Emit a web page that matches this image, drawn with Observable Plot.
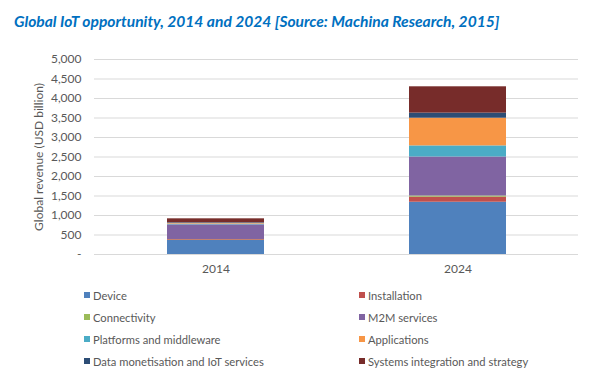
<!DOCTYPE html>
<html>
<head>
<meta charset="utf-8">
<script src="https://cdn.jsdelivr.net/npm/d3@7"></script>
<script src="https://cdn.jsdelivr.net/npm/@observablehq/plot@0.6"></script>
<style>
  html, body { margin: 0; padding: 0; background: #fff; }
  body { width: 599px; height: 385px; overflow: hidden; font-family: Lato, "Open Sans", sans-serif; }
  #title { height: 40px; box-sizing: border-box; padding: 11px 0 0 14px; font: italic bold 15.6px Lato, sans-serif; color: #0070C0; white-space: nowrap; line-height: 20px; }
  #chart { height: 245px; }
  #legend { display: grid; grid-template-columns: 275px 240px; row-gap: 0; margin-left: 84px; margin-top: -1px; }
  .item { height: 22px; display: flex; align-items: center; font: 11.2px Lato, sans-serif; color: #595959; }
  .sw { width: 6px; height: 6px; margin-right: 3px; flex: none; }
</style>
</head>
<body>
<div id="title">Global IoT opportunity, 2014 and 2024 [Source: Machina Research, 2015]</div>
<div id="chart"></div>
<div id="legend"></div>
<script>
const years = ["2014", "2024"];
const segments = [
  "Device",
  "Installation",
  "Connectivity",
  "M2M services",
  "Platforms and middleware",
  "Applications",
  "Data monetisation and IoT services",
  "Systems integration and strategy"
];
const values2014 = [360, 20, 5, 375, 20, 20, 15, 100];
const values2024 = [1340, 130, 30, 1000, 285, 710, 130, 675];
const colors = ["#4F81BD", "#C0504D", "#9BBB59", "#8064A2", "#4BACC6", "#F79646", "#2C4D75", "#772C2A"];
const yTicks = [0, 500, 1000, 1500, 2000, 2500, 3000, 3500, 4000, 4500, 5000];
const yLabel = "Global revenue (USD billion)";

const table = [];
segments.forEach((s, i) => {
  table.push({year: years[0], segment: s, value: values2014[i]});
  table.push({year: years[1], segment: s, value: values2024[i]});
});

const fmt = d => d === 0 ? "-" : d3.format(",")(d);

const chart = Plot.plot({
  width: 599,
  height: 245,
  marginTop: 19,
  marginBottom: 31,
  marginLeft: 94,
  marginRight: 21,
  style: {fontFamily: "Lato, sans-serif", fontSize: "12px", color: "#595959", background: "#fff"},
  x: {domain: years, paddingInner: 0.6, paddingOuter: 0.3, label: null},
  y: {domain: [0, 5000], label: null},
  color: {domain: segments, range: colors},
  marks: [
    Plot.ruleY(yTicks.filter(d => d > 0), {stroke: "#D9D9D9", strokeWidth: 1}),
    Plot.barY(table, {x: "year", y: "value", fill: "segment", order: segments}),
    Plot.ruleY([0], {stroke: "#D9D9D9", strokeWidth: 1}),
    Plot.axisY({ticks: yTicks, tickFormat: fmt, tickSize: 0, tickPadding: 13, fill: "#595959", fontSize: 12,
      label: yLabel, labelAnchor: "center", labelArrow: "none", labelOffset: 60}),
    Plot.axisX({tickSize: 0, tickPadding: 10, fill: "#595959", fontSize: 12, label: null})
  ]
});
document.getElementById("chart").appendChild(chart);

const legend = document.getElementById("legend");
segments.forEach((s, i) => {
  const item = document.createElement("div");
  item.className = "item";
  const sw = document.createElement("span");
  sw.className = "sw";
  sw.style.background = colors[i];
  const tx = document.createElement("span");
  tx.textContent = s;
  item.appendChild(sw);
  item.appendChild(tx);
  legend.appendChild(item);
});
</script>
</body>
</html>
